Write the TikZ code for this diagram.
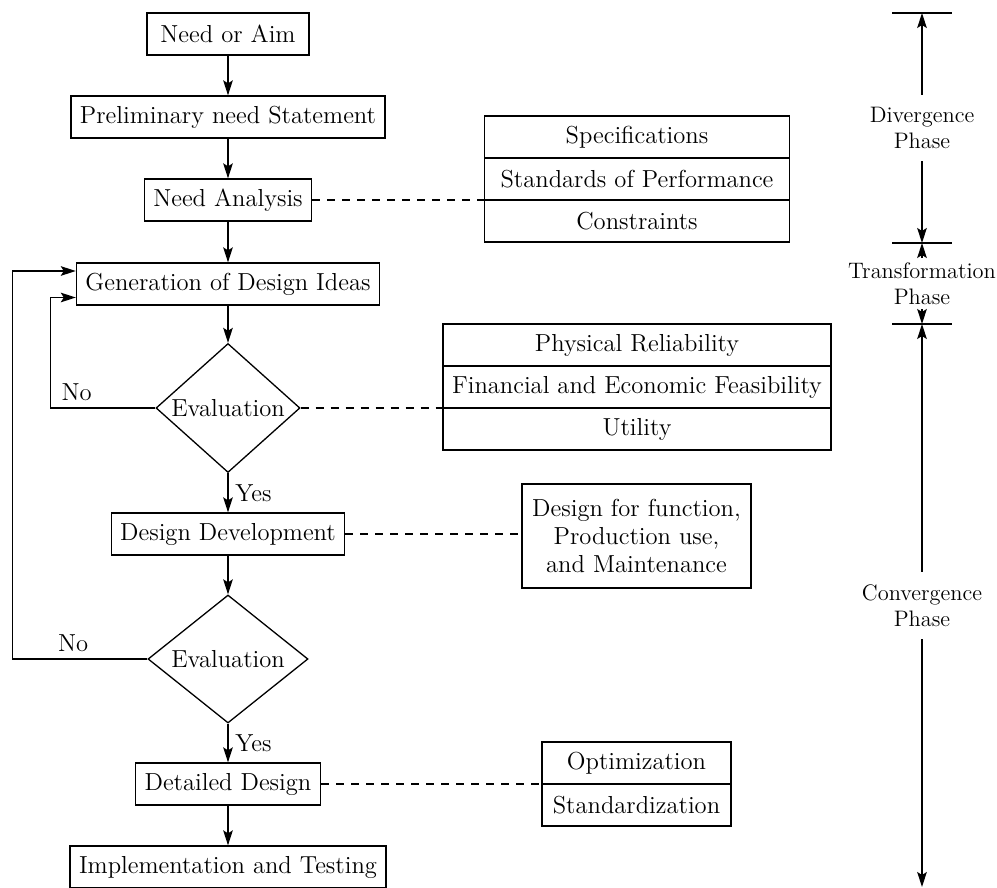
\documentclass[tikz,border=0pt]{standalone}
\usepackage{fontspec}
\usepackage{tikz}
\usetikzlibrary{shapes, positioning, calc, arrows.meta}

\begin{document}
\begin{tikzpicture}[x=0.5pt, y=-0.5pt, line width=0.65pt,
  font=\fontsize{12.3}{14.2}\selectfont,
  >={Stealth[length=7.5pt, width=4.8pt, inset=1.5pt]},
  box/.style={draw, rectangle, minimum height=21pt, inner xsep=4.5pt, inner ysep=0pt},
  decide/.style={draw, diamond, aspect=1.2, inner sep=0pt},
  cell/.style={draw, rectangle, minimum height=21pt, inner sep=0pt, outer sep=0pt},
  link/.style={dash pattern=on 4pt off 3.5pt},
  phase/.style={align=center, font=\fontsize{11.2}{13}\selectfont, inner sep=2pt}]

\useasboundingbox (0,0) rectangle (997,888);

%// main column
\node[box, minimum width=81pt] (need) at (228,34) {Need or Aim};
\node[box] (prelim) at (228,117) {Preliminary need Statement};
\node[box] (analysis) at (228,200) {Need Analysis};
\node[box] (ideas) at (228,284) {Generation of Design Ideas};
\node[decide, minimum width=72pt, minimum height=64.5pt] (eval1) at (228,408) {Evaluation};
\node[box] (develop) at (228,534) {Design Development};
\node[decide, aspect=1.25, minimum width=80pt, minimum height=64pt] (eval2) at (228,659) {Evaluation};
\node[box] (detail) at (228,784) {Detailed Design};
\node[box] (implement) at (228,867) {Implementation and Testing};

\draw[->] (need) -- (prelim);
\draw[->] (prelim) -- (analysis);
\draw[->] (analysis) -- (ideas);
\draw[->] (ideas) -- (eval1);
\draw[->] (eval1) -- node[right] (yes1) {Yes} (develop);
\draw[->] (develop) -- (eval2);
\draw[->] (eval2) -- node[right] (yes2) {Yes} (detail);
\draw[->] (detail) -- (implement);

%// feedback loops
\draw[->] (eval1.west) -- node[above, pos=0.75] (no1) {No} ++(-105,0) |- ([yshift=-6.75pt]ideas.west);
\draw[->] (eval2.west) -- node[above, pos=0.55] (no2) {No} ++(-135,0) |- ([yshift=6.5pt]ideas.west);

%// side tables
\node[cell, minimum width=152.5pt] (spec) at (637,137) {Specifications};
\node[cell, minimum width=152.5pt, below=0pt of spec] (perf) {Standards of Performance};
\node[cell, minimum width=152.5pt, below=0pt of perf] (limits) {Constraints};

\node[cell, minimum width=194pt] (physical) at (637,345) {Physical Reliability};
\node[cell, minimum width=194pt, below=0pt of physical] (finance) {Financial and Economic Feasibility};
\node[cell, minimum width=194pt, below=0pt of finance] (utility) {Utility};

\node[draw, align=center, minimum width=114.5pt, minimum height=52pt] (dfm) at (636.5,536)
  {Design for function,\\Production use,\\and Maintenance};

\node[cell, minimum width=94.5pt] (optim) at (636.5,763) {Optimization};
\node[cell, minimum width=94.5pt, below=0pt of optim] (standard) {Standardization};

\draw[link] (analysis.east) -- (analysis.east -| limits.west);
\draw[link] (eval1.east) -- (eval1.east -| utility.west);
\draw[link] (develop.east) -- (develop.east -| dfm.west);
\draw[link] (detail.east) -- (detail.east -| standard.west);

%// phase scale
\coordinate (top) at (922,13);
\coordinate (div) at (922,243);
\coordinate (conv) at (922,324);
\coordinate (bottom) at (922,887);
\foreach \c in {top, div, conv}
\draw ([xshift=-15pt]\c) -- ([xshift=15pt]\c);

\node[phase] (diverge) at ($(top)!0.5!(div)$) {Divergence\\Phase};
\node[phase] (transform) at ($(div)!0.5!(conv)$) {Transformation\\Phase};
\node[phase] (converge) at ($(conv)!0.5!(bottom)$) {Convergence\\Phase};

\draw[->, shorten <=4pt] (diverge) -- (top);
\draw[->, shorten <=4pt] (diverge) -- (div);
\draw[->] (transform) -- (div);
\draw[->] (transform) -- (conv);
\draw[->, shorten <=4pt] (converge) -- (conv);
\draw[->, shorten <=4pt] (converge) -- (bottom);
\end{tikzpicture}
\end{document}
